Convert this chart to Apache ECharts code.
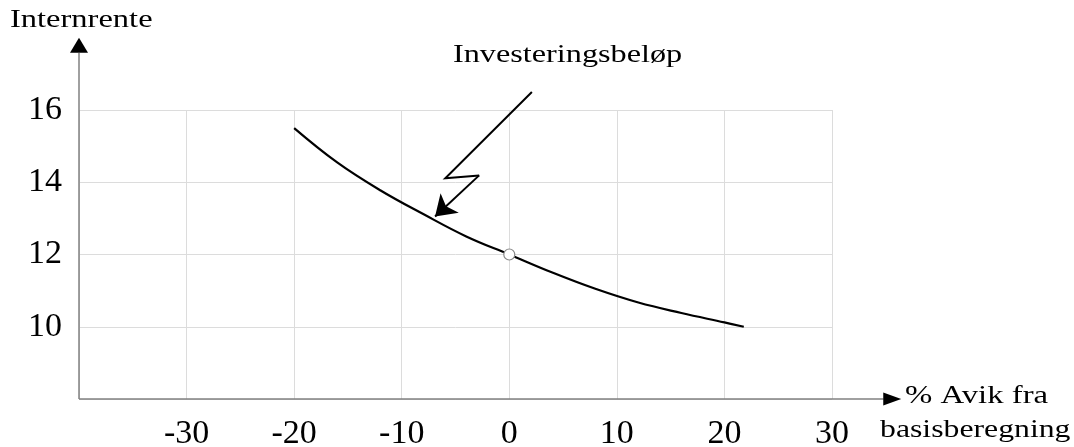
<!DOCTYPE html>
<html>
<head>
<meta charset="utf-8">
<script src="https://cdn.jsdelivr.net/npm/echarts@6/dist/echarts.min.js"></script>
<style>html,body{margin:0;padding:0;background:#fff;}#c{width:1074px;height:447px;}</style>
</head>
<body>
<div id="c"></div>
<script>
// Curve: % deviation from base case -> internal rate of return
var curveX = [-20, -16, -12, -8, -4, 0, 4, 8, 12, 16, 20, 21.8];
var curveY = [15.5, 14.55, 13.78, 13.12, 12.5, 12.0, 11.5, 11.05, 10.67, 10.38, 10.12, 10.0];
// Base case marker
var baseX = [0];
var baseY = [12];
// Zigzag annotation arrow (data coordinates)
var annX = [2.1, -5.95, -2.8, -6.9];
var annY = [16.5, 14.11, 14.19, 13.05];
// Axes extents (data coordinates)
var xMin = -40, xMax = 30, yMin = 8, yMax = 16;
var xAxisEnd = 34.8, yAxisEnd = 17.58;
var xArrowPos = 35.6, yArrowPos = 17.79;
// Texts
var yTitle = 'Internrente';
var annText = 'Investeringsbeløp';
var xTitle1 = '% Avik fra';
var xTitle2 = 'basisberegning';

var serif = '"Liberation Serif", "Times New Roman", serif';
var chart = echarts.init(document.getElementById('c'));

var curveData = curveX.map(function (x, i) { return [x, curveY[i]]; });
var annCoords = annX.map(function (x, i) { return [x, annY[i]]; });
var n = annCoords.length;

chart.setOption({
  animation: false,
  backgroundColor: '#fff',
  grid: { left: 79, top: 110, right: 242, bottom: 48, containLabel: false, outerBoundsMode: 'none' },
  xAxis: {
    type: 'value', min: xMin, max: xMax, interval: 10,
    axisLine: { show: false }, axisTick: { show: false },
    splitLine: { show: true, lineStyle: { color: '#dcdcdc', width: 1 } },
    axisLabel: { showMinLabel: false, fontFamily: serif, fontSize: 34, color: '#000', margin: 18 }
  },
  yAxis: {
    type: 'value', min: yMin, max: yMax, interval: 2,
    axisLine: { show: false }, axisTick: { show: false },
    splitLine: { show: true, lineStyle: { color: '#dcdcdc', width: 1 } },
    axisLabel: { showMinLabel: false, fontFamily: serif, fontSize: 34, color: '#000', margin: 17 }
  },
  series: [
    {
      type: 'lines', coordinateSystem: 'cartesian2d', polyline: false, clip: false,
      silent: true, symbol: ['none', 'none'],
      lineStyle: { color: '#808080', width: 1.5, opacity: 1 },
      data: [
        { coords: [[xMin, yMin], [xAxisEnd, yMin]] },
        { coords: [[xMin, yMin], [xMin, yAxisEnd]] }
      ],
      z: 3
    },
    {
      type: 'scatter', clip: false, silent: true,
      symbol: 'triangle',
      itemStyle: { color: '#000', opacity: 1 },
      data: [
        { value: [xArrowPos, yMin], symbolSize: [13, 18], symbolRotate: -90 },
        { value: [xMin, yArrowPos], symbolSize: [18, 15], symbolRotate: 0 }
      ],
      z: 4
    },
    {
      type: 'line', data: curveData, smooth: 0.4, showSymbol: false, clip: false,
      lineStyle: { color: '#000', width: 2.2 }, z: 5
    },
    {
      type: 'scatter', data: baseX.map(function (x, i) { return [x, baseY[i]]; }),
      symbol: 'circle', symbolSize: 11,
      itemStyle: { color: '#fff', borderColor: '#888', borderWidth: 1.2, opacity: 1 }, z: 6
    },
    {
      type: 'lines', coordinateSystem: 'cartesian2d', polyline: true, clip: false,
      silent: true, symbol: ['none', 'none'],
      lineStyle: { color: '#000', width: 2, opacity: 1 },
      data: [{ coords: annCoords.slice(0, n - 1) }], z: 7
    },
    {
      type: 'lines', coordinateSystem: 'cartesian2d', polyline: false, clip: false,
      silent: true, symbol: ['none', 'arrow'], symbolSize: [14, 20],
      lineStyle: { color: '#000', width: 2, opacity: 1 },
      data: [{ coords: [annCoords[n - 2], annCoords[n - 1]] }], z: 7
    }
  ],
  graphic: [
    { type: 'text', x: 10, y: 8, scaleX: 1.3, silent: true,
      style: { text: yTitle, font: '25px ' + serif, fill: '#000', textAlign: 'left', textVerticalAlign: 'top' } },
    { type: 'text', x: 453, y: 42, scaleX: 1.24, silent: true,
      style: { text: annText, font: '26px ' + serif, fill: '#000', textAlign: 'left', textVerticalAlign: 'top' } },
    { type: 'text', x: 905, y: 383, scaleX: 1.26, silent: true,
      style: { text: xTitle1, font: '26px ' + serif, fill: '#000', textAlign: 'left', textVerticalAlign: 'top' } },
    { type: 'text', x: 880, y: 418, scaleX: 1.27, silent: true,
      style: { text: xTitle2, font: '25px ' + serif, fill: '#000', textAlign: 'left', textVerticalAlign: 'top' } }
  ]
});
</script>
</body>
</html>
